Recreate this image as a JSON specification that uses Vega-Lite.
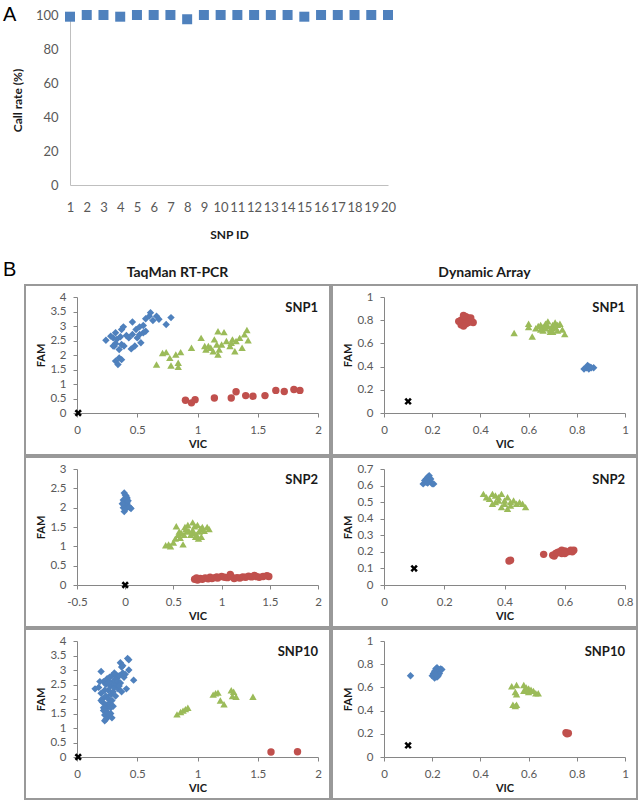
{
  "$schema": "https://vega.github.io/schema/vega-lite/v6.json",
  "padding": {"left": 3, "top": 5, "right": 0, "bottom": 0},
  "spacing": 20,
  "datasets": {
    "callrate": [
      {"snp": 1, "rate": 99}, {"snp": 2, "rate": 100}, {"snp": 3, "rate": 100}, {"snp": 4, "rate": 99},
      {"snp": 5, "rate": 100}, {"snp": 6, "rate": 100}, {"snp": 7, "rate": 100}, {"snp": 8, "rate": 97.5},
      {"snp": 9, "rate": 100}, {"snp": 10, "rate": 100}, {"snp": 11, "rate": 100}, {"snp": 12, "rate": 100},
      {"snp": 13, "rate": 100}, {"snp": 14, "rate": 100}, {"snp": 15, "rate": 99}, {"snp": 16, "rate": 100},
      {"snp": 17, "rate": 100}, {"snp": 18, "rate": 100}, {"snp": 19, "rate": 100}, {"snp": 20, "rate": 100}
    ],
    "t1": [
      {"v": 0.24, "f": 2.51, "g": "A"}, {"v": 0.30, "f": 2.59, "g": "A"}, {"v": 0.32, "f": 2.77, "g": "A"}, {"v": 0.37, "f": 2.88, "g": "A"},
      {"v": 0.385, "f": 2.97, "g": "A"}, {"v": 0.31, "f": 2.31, "g": "A"}, {"v": 0.35, "f": 2.19, "g": "A"}, {"v": 0.32, "f": 2.40, "g": "A"},
      {"v": 0.30, "f": 2.31, "g": "A"}, {"v": 0.37, "f": 2.36, "g": "A"}, {"v": 0.39, "f": 2.31, "g": "A"}, {"v": 0.35, "f": 1.90, "g": "A"},
      {"v": 0.32, "f": 1.79, "g": "A"}, {"v": 0.34, "f": 1.67, "g": "A"}, {"v": 0.37, "f": 1.84, "g": "A"}, {"v": 0.45, "f": 2.21, "g": "A"},
      {"v": 0.48, "f": 2.31, "g": "A"}, {"v": 0.53, "f": 2.42, "g": "A"}, {"v": 0.46, "f": 2.71, "g": "A"}, {"v": 0.46, "f": 3.14, "g": "A"},
      {"v": 0.49, "f": 2.88, "g": "A"}, {"v": 0.52, "f": 2.97, "g": "A"}, {"v": 0.55, "f": 3.02, "g": "A"}, {"v": 0.52, "f": 2.71, "g": "A"},
      {"v": 0.55, "f": 2.77, "g": "A"}, {"v": 0.57, "f": 3.25, "g": "A"}, {"v": 0.60, "f": 3.34, "g": "A"}, {"v": 0.61, "f": 3.46, "g": "A"},
      {"v": 0.63, "f": 3.19, "g": "A"}, {"v": 0.66, "f": 3.34, "g": "A"}, {"v": 0.68, "f": 3.23, "g": "A"}, {"v": 0.74, "f": 3.05, "g": "A"},
      {"v": 0.78, "f": 3.29, "g": "A"}, {"v": 0.41, "f": 2.67, "g": "A"}, {"v": 0.43, "f": 2.59, "g": "A"}, {"v": 0.28, "f": 2.65, "g": "A"},
      {"v": 0.33, "f": 2.54, "g": "A"}, {"v": 0.36, "f": 2.63, "g": "A"}, {"v": 0.50, "f": 2.59, "g": "A"}, {"v": 0.57, "f": 2.82, "g": "A"},
      {"v": 0.66, "f": 1.67, "g": "H"}, {"v": 0.71, "f": 2.07, "g": "H"}, {"v": 0.74, "f": 2.10, "g": "H"}, {"v": 0.77, "f": 1.90, "g": "H"},
      {"v": 0.78, "f": 1.64, "g": "H"}, {"v": 0.82, "f": 2.02, "g": "H"}, {"v": 0.84, "f": 1.73, "g": "H"}, {"v": 0.84, "f": 1.59, "g": "H"},
      {"v": 0.86, "f": 2.10, "g": "H"}, {"v": 0.95, "f": 2.25, "g": "H"}, {"v": 1.03, "f": 2.59, "g": "H"}, {"v": 1.06, "f": 2.31, "g": "H"},
      {"v": 1.07, "f": 2.19, "g": "H"}, {"v": 1.11, "f": 2.25, "g": "H"}, {"v": 1.13, "f": 2.13, "g": "H"}, {"v": 1.14, "f": 2.54, "g": "H"},
      {"v": 1.16, "f": 2.36, "g": "H"}, {"v": 1.17, "f": 2.82, "g": "H"}, {"v": 1.18, "f": 2.19, "g": "H"}, {"v": 1.17, "f": 2.02, "g": "H"},
      {"v": 1.22, "f": 2.79, "g": "H"}, {"v": 1.20, "f": 2.36, "g": "H"}, {"v": 1.24, "f": 2.48, "g": "H"}, {"v": 1.28, "f": 2.42, "g": "H"},
      {"v": 1.29, "f": 2.54, "g": "H"}, {"v": 1.31, "f": 2.13, "g": "H"}, {"v": 1.32, "f": 2.48, "g": "H"}, {"v": 1.35, "f": 2.59, "g": "H"},
      {"v": 1.37, "f": 2.25, "g": "H"}, {"v": 1.39, "f": 2.71, "g": "H"}, {"v": 1.41, "f": 2.86, "g": "H"}, {"v": 1.42, "f": 2.51, "g": "H"},
      {"v": 1.27, "f": 2.31, "g": "H"}, {"v": 1.09, "f": 2.31, "g": "H"},
      {"v": 0.90, "f": 0.44, "g": "B"}, {"v": 0.95, "f": 0.35, "g": "B"}, {"v": 0.98, "f": 0.46, "g": "B"}, {"v": 1.14, "f": 0.52, "g": "B"},
      {"v": 1.28, "f": 0.52, "g": "B"}, {"v": 1.32, "f": 0.73, "g": "B"}, {"v": 1.40, "f": 0.60, "g": "B"}, {"v": 1.46, "f": 0.58, "g": "B"},
      {"v": 1.56, "f": 0.60, "g": "B"}, {"v": 1.65, "f": 0.78, "g": "B"}, {"v": 1.72, "f": 0.74, "g": "B"}, {"v": 1.80, "f": 0.81, "g": "B"},
      {"v": 1.85, "f": 0.78, "g": "B"},
      {"v": 0.01, "f": 0, "g": "N"}
    ],
    "d1": [
      {"v": 0.32, "f": 0.80, "g": "B"}, {"v": 0.33, "f": 0.82, "g": "B"}, {"v": 0.34, "f": 0.83, "g": "B"}, {"v": 0.35, "f": 0.81, "g": "B"},
      {"v": 0.36, "f": 0.80, "g": "B"}, {"v": 0.37, "f": 0.78, "g": "B"}, {"v": 0.33, "f": 0.78, "g": "B"}, {"v": 0.32, "f": 0.76, "g": "B"},
      {"v": 0.34, "f": 0.79, "g": "B"}, {"v": 0.35, "f": 0.82, "g": "B"}, {"v": 0.33, "f": 0.80, "g": "B"}, {"v": 0.34, "f": 0.81, "g": "B"},
      {"v": 0.36, "f": 0.82, "g": "B"}, {"v": 0.32, "f": 0.78, "g": "B"}, {"v": 0.35, "f": 0.78, "g": "B"}, {"v": 0.33, "f": 0.84, "g": "B"},
      {"v": 0.34, "f": 0.77, "g": "B"}, {"v": 0.31, "f": 0.79, "g": "B"}, {"v": 0.33, "f": 0.75, "g": "B"},
      {"v": 0.54, "f": 0.69, "g": "H"}, {"v": 0.60, "f": 0.77, "g": "H"}, {"v": 0.60, "f": 0.74, "g": "H"}, {"v": 0.615, "f": 0.66, "g": "H"},
      {"v": 0.63, "f": 0.73, "g": "H"}, {"v": 0.64, "f": 0.75, "g": "H"}, {"v": 0.65, "f": 0.76, "g": "H"}, {"v": 0.66, "f": 0.74, "g": "H"},
      {"v": 0.66, "f": 0.71, "g": "H"}, {"v": 0.67, "f": 0.77, "g": "H"}, {"v": 0.68, "f": 0.79, "g": "H"}, {"v": 0.68, "f": 0.75, "g": "H"},
      {"v": 0.69, "f": 0.72, "g": "H"}, {"v": 0.69, "f": 0.70, "g": "H"}, {"v": 0.70, "f": 0.76, "g": "H"}, {"v": 0.70, "f": 0.73, "g": "H"},
      {"v": 0.71, "f": 0.78, "g": "H"}, {"v": 0.71, "f": 0.74, "g": "H"}, {"v": 0.72, "f": 0.71, "g": "H"}, {"v": 0.72, "f": 0.76, "g": "H"},
      {"v": 0.73, "f": 0.77, "g": "H"}, {"v": 0.74, "f": 0.72, "g": "H"}, {"v": 0.75, "f": 0.68, "g": "H"}, {"v": 0.67, "f": 0.73, "g": "H"},
      {"v": 0.65, "f": 0.72, "g": "H"}, {"v": 0.70, "f": 0.70, "g": "H"},
      {"v": 0.83, "f": 0.38, "g": "A"}, {"v": 0.84, "f": 0.39, "g": "A"}, {"v": 0.85, "f": 0.40, "g": "A"}, {"v": 0.86, "f": 0.39, "g": "A"},
      {"v": 0.87, "f": 0.39, "g": "A"}, {"v": 0.85, "f": 0.38, "g": "A"}, {"v": 0.845, "f": 0.41, "g": "A"}, {"v": 0.855, "f": 0.395, "g": "A"},
      {"v": 0.1, "f": 0.1, "g": "N"}
    ],
    "t2": [
      {"v": -0.01, "f": 2.38, "g": "A"}, {"v": 0.0, "f": 2.33, "g": "A"}, {"v": 0.01, "f": 2.30, "g": "A"}, {"v": 0.02, "f": 2.25, "g": "A"},
      {"v": -0.02, "f": 2.20, "g": "A"}, {"v": -0.01, "f": 2.15, "g": "A"}, {"v": 0.0, "f": 2.10, "g": "A"}, {"v": 0.01, "f": 2.05, "g": "A"},
      {"v": -0.02, "f": 2.00, "g": "A"}, {"v": 0.0, "f": 1.95, "g": "A"}, {"v": -0.01, "f": 1.90, "g": "A"}, {"v": 0.02, "f": 2.12, "g": "A"},
      {"v": 0.05, "f": 2.00, "g": "A"}, {"v": 0.06, "f": 1.98, "g": "A"}, {"v": 0.03, "f": 2.18, "g": "A"}, {"v": 0.04, "f": 2.02, "g": "A"},
      {"v": -0.03, "f": 2.10, "g": "A"},
      {"v": 0.42, "f": 1.03, "g": "H"}, {"v": 0.45, "f": 1.05, "g": "H"}, {"v": 0.47, "f": 1.00, "g": "H"}, {"v": 0.50, "f": 1.10, "g": "H"},
      {"v": 0.52, "f": 1.20, "g": "H"}, {"v": 0.53, "f": 1.52, "g": "H"}, {"v": 0.55, "f": 1.30, "g": "H"}, {"v": 0.56, "f": 1.38, "g": "H"},
      {"v": 0.58, "f": 1.35, "g": "H"}, {"v": 0.60, "f": 1.05, "g": "H"}, {"v": 0.61, "f": 1.30, "g": "H"}, {"v": 0.63, "f": 1.45, "g": "H"},
      {"v": 0.64, "f": 1.38, "g": "H"}, {"v": 0.65, "f": 1.55, "g": "H"}, {"v": 0.66, "f": 1.40, "g": "H"}, {"v": 0.68, "f": 1.30, "g": "H"},
      {"v": 0.70, "f": 1.62, "g": "H"}, {"v": 0.70, "f": 1.42, "g": "H"}, {"v": 0.71, "f": 1.35, "g": "H"}, {"v": 0.72, "f": 1.52, "g": "H"},
      {"v": 0.73, "f": 1.25, "g": "H"}, {"v": 0.74, "f": 1.30, "g": "H"}, {"v": 0.75, "f": 1.55, "g": "H"}, {"v": 0.76, "f": 1.20, "g": "H"},
      {"v": 0.77, "f": 1.38, "g": "H"}, {"v": 0.78, "f": 1.45, "g": "H"}, {"v": 0.79, "f": 1.25, "g": "H"}, {"v": 0.80, "f": 1.50, "g": "H"},
      {"v": 0.82, "f": 1.40, "g": "H"}, {"v": 0.85, "f": 1.50, "g": "H"}, {"v": 0.87, "f": 1.45, "g": "H"}, {"v": 0.57, "f": 1.22, "g": "H"},
      {"v": 0.62, "f": 1.50, "g": "H"},
      {"v": 0.72, "f": 0.15, "g": "B"}, {"v": 0.75, "f": 0.13, "g": "B"}, {"v": 0.78, "f": 0.17, "g": "B"}, {"v": 0.80, "f": 0.15, "g": "B"},
      {"v": 0.83, "f": 0.18, "g": "B"}, {"v": 0.86, "f": 0.16, "g": "B"}, {"v": 0.88, "f": 0.20, "g": "B"}, {"v": 0.90, "f": 0.17, "g": "B"},
      {"v": 0.93, "f": 0.19, "g": "B"}, {"v": 0.96, "f": 0.18, "g": "B"}, {"v": 1.00, "f": 0.22, "g": "B"}, {"v": 1.03, "f": 0.20, "g": "B"},
      {"v": 1.06, "f": 0.19, "g": "B"}, {"v": 1.09, "f": 0.27, "g": "B"}, {"v": 1.10, "f": 0.22, "g": "B"}, {"v": 1.13, "f": 0.17, "g": "B"},
      {"v": 1.16, "f": 0.19, "g": "B"}, {"v": 1.19, "f": 0.18, "g": "B"}, {"v": 1.22, "f": 0.21, "g": "B"}, {"v": 1.25, "f": 0.20, "g": "B"},
      {"v": 1.28, "f": 0.23, "g": "B"}, {"v": 1.31, "f": 0.21, "g": "B"}, {"v": 1.34, "f": 0.25, "g": "B"}, {"v": 1.36, "f": 0.22, "g": "B"},
      {"v": 1.39, "f": 0.20, "g": "B"}, {"v": 1.43, "f": 0.22, "g": "B"}, {"v": 1.47, "f": 0.24, "g": "B"}, {"v": 1.49, "f": 0.22, "g": "B"},
      {"v": 0.74, "f": 0.18, "g": "B"}, {"v": 0.95, "f": 0.21, "g": "B"},
      {"v": 0.0, "f": 0, "g": "N"}
    ],
    "d2": [
      {"v": 0.13, "f": 0.61, "g": "A"}, {"v": 0.135, "f": 0.63, "g": "A"}, {"v": 0.14, "f": 0.64, "g": "A"}, {"v": 0.145, "f": 0.65, "g": "A"},
      {"v": 0.15, "f": 0.66, "g": "A"}, {"v": 0.15, "f": 0.63, "g": "A"}, {"v": 0.14, "f": 0.62, "g": "A"}, {"v": 0.16, "f": 0.61, "g": "A"},
      {"v": 0.165, "f": 0.61, "g": "A"}, {"v": 0.155, "f": 0.64, "g": "A"}, {"v": 0.145, "f": 0.615, "g": "A"},
      {"v": 0.33, "f": 0.55, "g": "H"}, {"v": 0.34, "f": 0.53, "g": "H"}, {"v": 0.35, "f": 0.52, "g": "H"}, {"v": 0.36, "f": 0.55, "g": "H"},
      {"v": 0.37, "f": 0.50, "g": "H"}, {"v": 0.37, "f": 0.54, "g": "H"}, {"v": 0.38, "f": 0.53, "g": "H"}, {"v": 0.39, "f": 0.55, "g": "H"},
      {"v": 0.39, "f": 0.47, "g": "H"}, {"v": 0.40, "f": 0.51, "g": "H"}, {"v": 0.40, "f": 0.49, "g": "H"}, {"v": 0.41, "f": 0.53, "g": "H"},
      {"v": 0.42, "f": 0.50, "g": "H"}, {"v": 0.42, "f": 0.48, "g": "H"}, {"v": 0.43, "f": 0.51, "g": "H"}, {"v": 0.44, "f": 0.49, "g": "H"},
      {"v": 0.45, "f": 0.50, "g": "H"}, {"v": 0.46, "f": 0.49, "g": "H"}, {"v": 0.47, "f": 0.47, "g": "H"}, {"v": 0.36, "f": 0.49, "g": "H"},
      {"v": 0.38, "f": 0.51, "g": "H"}, {"v": 0.41, "f": 0.46, "g": "H"},
      {"v": 0.42, "f": 0.15, "g": "B"}, {"v": 0.415, "f": 0.145, "g": "B"}, {"v": 0.53, "f": 0.185, "g": "B"}, {"v": 0.56, "f": 0.18, "g": "B"},
      {"v": 0.57, "f": 0.19, "g": "B"}, {"v": 0.58, "f": 0.20, "g": "B"}, {"v": 0.59, "f": 0.19, "g": "B"}, {"v": 0.60, "f": 0.205, "g": "B"},
      {"v": 0.61, "f": 0.20, "g": "B"}, {"v": 0.62, "f": 0.21, "g": "B"}, {"v": 0.63, "f": 0.21, "g": "B"}, {"v": 0.565, "f": 0.175, "g": "B"},
      {"v": 0.59, "f": 0.21, "g": "B"}, {"v": 0.60, "f": 0.19, "g": "B"}, {"v": 0.625, "f": 0.20, "g": "B"}, {"v": 0.575, "f": 0.195, "g": "B"},
      {"v": 0.1, "f": 0.1, "g": "N"}
    ],
    "t3": [
      {"v": 0.15, "f": 2.35, "g": "A"}, {"v": 0.18, "f": 2.40, "g": "A"}, {"v": 0.20, "f": 2.95, "g": "A"}, {"v": 0.20, "f": 2.20, "g": "A"},
      {"v": 0.21, "f": 2.00, "g": "A"}, {"v": 0.21, "f": 1.90, "g": "A"}, {"v": 0.22, "f": 2.60, "g": "A"}, {"v": 0.22, "f": 1.60, "g": "A"},
      {"v": 0.23, "f": 1.45, "g": "A"}, {"v": 0.23, "f": 1.25, "g": "A"}, {"v": 0.24, "f": 1.80, "g": "A"}, {"v": 0.24, "f": 2.10, "g": "A"},
      {"v": 0.24, "f": 2.50, "g": "A"}, {"v": 0.25, "f": 1.55, "g": "A"}, {"v": 0.25, "f": 1.70, "g": "A"}, {"v": 0.25, "f": 2.70, "g": "A"},
      {"v": 0.26, "f": 1.40, "g": "A"}, {"v": 0.26, "f": 2.30, "g": "A"}, {"v": 0.26, "f": 2.00, "g": "A"}, {"v": 0.27, "f": 1.85, "g": "A"},
      {"v": 0.27, "f": 2.60, "g": "A"}, {"v": 0.27, "f": 2.75, "g": "A"}, {"v": 0.28, "f": 1.50, "g": "A"}, {"v": 0.28, "f": 2.15, "g": "A"},
      {"v": 0.28, "f": 2.45, "g": "A"}, {"v": 0.29, "f": 1.35, "g": "A"}, {"v": 0.29, "f": 1.95, "g": "A"}, {"v": 0.29, "f": 2.80, "g": "A"},
      {"v": 0.30, "f": 2.25, "g": "A"}, {"v": 0.30, "f": 2.55, "g": "A"}, {"v": 0.30, "f": 1.75, "g": "A"}, {"v": 0.31, "f": 2.65, "g": "A"},
      {"v": 0.31, "f": 2.40, "g": "A"}, {"v": 0.32, "f": 2.85, "g": "A"}, {"v": 0.32, "f": 2.10, "g": "A"}, {"v": 0.33, "f": 2.50, "g": "A"},
      {"v": 0.33, "f": 2.70, "g": "A"}, {"v": 0.34, "f": 2.35, "g": "A"}, {"v": 0.34, "f": 2.60, "g": "A"}, {"v": 0.35, "f": 2.80, "g": "A"},
      {"v": 0.36, "f": 3.25, "g": "A"}, {"v": 0.36, "f": 2.55, "g": "A"}, {"v": 0.37, "f": 2.25, "g": "A"}, {"v": 0.37, "f": 3.10, "g": "A"},
      {"v": 0.38, "f": 2.90, "g": "A"}, {"v": 0.38, "f": 3.15, "g": "A"}, {"v": 0.39, "f": 2.75, "g": "A"}, {"v": 0.40, "f": 2.85, "g": "A"},
      {"v": 0.41, "f": 2.35, "g": "A"}, {"v": 0.42, "f": 3.40, "g": "A"}, {"v": 0.43, "f": 3.00, "g": "A"}, {"v": 0.43, "f": 3.35, "g": "A"},
      {"v": 0.47, "f": 2.65, "g": "A"}, {"v": 0.19, "f": 2.60, "g": "A"}, {"v": 0.23, "f": 2.30, "g": "A"}, {"v": 0.26, "f": 2.55, "g": "A"},
      {"v": 0.22, "f": 1.70, "g": "A"}, {"v": 0.20, "f": 1.95, "g": "A"}, {"v": 0.28, "f": 1.70, "g": "A"}, {"v": 0.31, "f": 2.90, "g": "A"},
      {"v": 0.35, "f": 2.45, "g": "A"}, {"v": 0.24, "f": 1.30, "g": "A"},
      {"v": 0.83, "f": 1.47, "g": "H"}, {"v": 0.86, "f": 1.55, "g": "H"}, {"v": 0.88, "f": 1.60, "g": "H"}, {"v": 0.90, "f": 1.65, "g": "H"},
      {"v": 0.92, "f": 1.70, "g": "H"}, {"v": 1.13, "f": 2.15, "g": "H"}, {"v": 1.15, "f": 2.20, "g": "H"}, {"v": 1.17, "f": 2.22, "g": "H"},
      {"v": 1.19, "f": 1.95, "g": "H"}, {"v": 1.22, "f": 1.82, "g": "H"}, {"v": 1.28, "f": 2.30, "g": "H"}, {"v": 1.29, "f": 2.10, "g": "H"},
      {"v": 1.30, "f": 2.25, "g": "H"}, {"v": 1.32, "f": 2.08, "g": "H"}, {"v": 1.46, "f": 2.08, "g": "H"},
      {"v": 1.61, "f": 0.17, "g": "B"}, {"v": 1.83, "f": 0.18, "g": "B"},
      {"v": 0.01, "f": 0, "g": "N"}
    ],
    "d3": [
      {"v": 0.11, "f": 0.70, "g": "A"}, {"v": 0.20, "f": 0.70, "g": "A"}, {"v": 0.205, "f": 0.72, "g": "A"}, {"v": 0.21, "f": 0.74, "g": "A"},
      {"v": 0.21, "f": 0.69, "g": "A"}, {"v": 0.215, "f": 0.76, "g": "A"}, {"v": 0.22, "f": 0.71, "g": "A"}, {"v": 0.22, "f": 0.77, "g": "A"},
      {"v": 0.225, "f": 0.73, "g": "A"}, {"v": 0.23, "f": 0.75, "g": "A"}, {"v": 0.235, "f": 0.76, "g": "A"}, {"v": 0.21, "f": 0.68, "g": "A"},
      {"v": 0.22, "f": 0.69, "g": "A"}, {"v": 0.225, "f": 0.70, "g": "A"}, {"v": 0.23, "f": 0.72, "g": "A"}, {"v": 0.215, "f": 0.71, "g": "A"},
      {"v": 0.24, "f": 0.755, "g": "A"},
      {"v": 0.53, "f": 0.61, "g": "H"}, {"v": 0.55, "f": 0.62, "g": "H"}, {"v": 0.545, "f": 0.56, "g": "H"}, {"v": 0.55, "f": 0.54, "g": "H"},
      {"v": 0.535, "f": 0.45, "g": "H"}, {"v": 0.545, "f": 0.44, "g": "H"}, {"v": 0.55, "f": 0.45, "g": "H"}, {"v": 0.58, "f": 0.62, "g": "H"},
      {"v": 0.58, "f": 0.57, "g": "H"}, {"v": 0.59, "f": 0.60, "g": "H"}, {"v": 0.60, "f": 0.59, "g": "H"}, {"v": 0.61, "f": 0.58, "g": "H"},
      {"v": 0.62, "f": 0.57, "g": "H"}, {"v": 0.63, "f": 0.55, "g": "H"}, {"v": 0.64, "f": 0.55, "g": "H"}, {"v": 0.60, "f": 0.56, "g": "H"},
      {"v": 0.59, "f": 0.58, "g": "H"},
      {"v": 0.755, "f": 0.21, "g": "B"}, {"v": 0.76, "f": 0.20, "g": "B"}, {"v": 0.765, "f": 0.205, "g": "B"},
      {"v": 0.1, "f": 0.1, "g": "N"}
    ]
  },
  "vconcat": [
    {
      "width": 365,
      "height": 170,
      "view": {"stroke": null},
      "title": {"text": "A", "anchor": "start", "frame": "group", "dx": -22, "offset": -16, "fontSize": 20, "fontWeight": "normal", "font": "Liberation Sans", "color": "#000000"},
      "data": {"name": "callrate"},
      "mark": {"type": "point", "shape": "square", "filled": true, "opacity": 1, "size": 100, "color": "#4f81bd"},
      "encoding": {
        "x": {"field": "snp", "type": "quantitative", "scale": {"domain": [1, 20], "range": [45, 363], "nice": false, "zero": false},
          "axis": {"title": "SNP ID", "values": [1,2,3,4,5,6,7,8,9,10,11,12,13,14,15,16,17,18,19,20], "ticks": false, "tickSize": 0, "labelPadding": 16, "labelFontSize": 13, "titleFontSize": 12, "titlePadding": 15, "domainColor": "#bfbfbf"}},
        "y": {"field": "rate", "type": "quantitative", "scale": {"domain": [0, 100], "nice": false},
          "axis": {"title": "Call rate (%)", "values": [0,20,40,60,80,100], "offset": -45, "ticks": false, "tickSize": 0, "labelPadding": 12, "labelFontSize": 13, "titleFontSize": 12, "titlePadding": 11, "domainColor": "#bfbfbf"}}
      }
    },
    {
      "title": {"text": "B", "anchor": "start", "frame": "group", "dx": -22, "offset": -14, "fontSize": 20, "fontWeight": "normal", "font": "Liberation Sans", "color": "#000000"},
      "spacing": 0,
      "hconcat": [
        {
          "title": {"text": "TaqMan RT-PCR", "fontSize": 14, "fontWeight": "bold", "anchor": "middle", "offset": 4},
          "spacing": 0,
          "vconcat": [
            {
              "width": 305, "height": 170,
              "view": {"stroke": "#999999", "strokeWidth": 2},
              "title": {"text": "SNP1", "anchor": "end", "frame": "group", "dx": -12, "offset": -36, "baseline": "middle", "fontSize": 13, "fontWeight": "bold"},
              "data": {"name": "t1"},
              "mark": {"type": "point", "filled": true, "opacity": 1, "size": 55},
              "encoding": {
                "x": {"field": "v", "type": "quantitative", "scale": {"domain": [0, 2], "range": [52, 293], "nice": false, "zero": false}, "axis": {"title": "VIC", "values": [0, 0.5, 1, 1.5, 2], "offset": -42}},
                "y": {"field": "f", "type": "quantitative", "scale": {"domain": [0, 4], "range": [128, 12], "nice": false}, "axis": {"title": "FAM", "values": [0, 0.5, 1, 1.5, 2, 2.5, 3, 3.5, 4], "offset": -52}},
                "color": {"field": "g", "type": "nominal", "scale": {"domain": ["A", "H", "B", "N"], "range": ["#4f81bd", "#9bbb59", "#c0504d", "#000000"]}, "legend": null},
                "shape": {"field": "g", "type": "nominal", "scale": {"domain": ["A", "H", "B", "N"], "range": ["diamond", "triangle-up", "circle", "M-1,-0.5L-0.5,-1L0,-0.45L0.5,-1L1,-0.5L0.45,0L1,0.5L0.5,1L0,0.45L-0.5,1L-1,0.5L-0.45,0Z"]}, "legend": null}
              }
            },
            {
              "width": 305, "height": 170,
              "view": {"stroke": "#999999", "strokeWidth": 2},
              "title": {"text": "SNP2", "anchor": "end", "frame": "group", "dx": -12, "offset": -36, "baseline": "middle", "fontSize": 13, "fontWeight": "bold"},
              "data": {"name": "t2"},
              "mark": {"type": "point", "filled": true, "opacity": 1, "size": 55},
              "encoding": {
                "x": {"field": "v", "type": "quantitative", "scale": {"domain": [-0.5, 2], "range": [52, 293], "nice": false, "zero": false}, "axis": {"title": "VIC", "values": [-0.5, 0, 0.5, 1, 1.5, 2], "offset": -42}},
                "y": {"field": "f", "type": "quantitative", "scale": {"domain": [0, 3], "range": [128, 12], "nice": false}, "axis": {"title": "FAM", "values": [0, 0.5, 1, 1.5, 2, 2.5, 3], "offset": -52}},
                "color": {"field": "g", "type": "nominal", "scale": {"domain": ["A", "H", "B", "N"], "range": ["#4f81bd", "#9bbb59", "#c0504d", "#000000"]}, "legend": null},
                "shape": {"field": "g", "type": "nominal", "scale": {"domain": ["A", "H", "B", "N"], "range": ["diamond", "triangle-up", "circle", "M-1,-0.5L-0.5,-1L0,-0.45L0.5,-1L1,-0.5L0.45,0L1,0.5L0.5,1L0,0.45L-0.5,1L-1,0.5L-0.45,0Z"]}, "legend": null}
              }
            },
            {
              "width": 305, "height": 170,
              "view": {"stroke": "#999999", "strokeWidth": 2},
              "title": {"text": "SNP10", "anchor": "end", "frame": "group", "dx": -12, "offset": -36, "baseline": "middle", "fontSize": 13, "fontWeight": "bold"},
              "data": {"name": "t3"},
              "mark": {"type": "point", "filled": true, "opacity": 1, "size": 55},
              "encoding": {
                "x": {"field": "v", "type": "quantitative", "scale": {"domain": [0, 2], "range": [52, 293], "nice": false, "zero": false}, "axis": {"title": "VIC", "values": [0, 0.5, 1, 1.5, 2], "offset": -42}},
                "y": {"field": "f", "type": "quantitative", "scale": {"domain": [0, 4], "range": [128, 12], "nice": false}, "axis": {"title": "FAM", "values": [0, 0.5, 1, 1.5, 2, 2.5, 3, 3.5, 4], "offset": -52}},
                "color": {"field": "g", "type": "nominal", "scale": {"domain": ["A", "H", "B", "N"], "range": ["#4f81bd", "#9bbb59", "#c0504d", "#000000"]}, "legend": null},
                "shape": {"field": "g", "type": "nominal", "scale": {"domain": ["A", "H", "B", "N"], "range": ["diamond", "triangle-up", "circle", "M-1,-0.5L-0.5,-1L0,-0.45L0.5,-1L1,-0.5L0.45,0L1,0.5L0.5,1L0,0.45L-0.5,1L-1,0.5L-0.45,0Z"]}, "legend": null}
              }
            }
          ]
        },
        {
          "title": {"text": "Dynamic Array", "fontSize": 14, "fontWeight": "bold", "anchor": "middle", "offset": 4},
          "spacing": 0,
          "vconcat": [
            {
              "width": 305, "height": 170,
              "view": {"stroke": "#999999", "strokeWidth": 2},
              "title": {"text": "SNP1", "anchor": "end", "frame": "group", "dx": -12, "offset": -36, "baseline": "middle", "fontSize": 13, "fontWeight": "bold"},
              "data": {"name": "d1"},
              "mark": {"type": "point", "filled": true, "opacity": 1, "size": 55},
              "encoding": {
                "x": {"field": "v", "type": "quantitative", "scale": {"domain": [0, 1], "range": [52, 293], "nice": false, "zero": false}, "axis": {"title": "VIC", "values": [0, 0.2, 0.4, 0.6, 0.8, 1], "offset": -42}},
                "y": {"field": "f", "type": "quantitative", "scale": {"domain": [0, 1], "range": [128, 12], "nice": false}, "axis": {"title": "FAM", "values": [0, 0.2, 0.4, 0.6, 0.8, 1], "offset": -52}},
                "color": {"field": "g", "type": "nominal", "scale": {"domain": ["A", "H", "B", "N"], "range": ["#4f81bd", "#9bbb59", "#c0504d", "#000000"]}, "legend": null},
                "shape": {"field": "g", "type": "nominal", "scale": {"domain": ["A", "H", "B", "N"], "range": ["diamond", "triangle-up", "circle", "M-1,-0.5L-0.5,-1L0,-0.45L0.5,-1L1,-0.5L0.45,0L1,0.5L0.5,1L0,0.45L-0.5,1L-1,0.5L-0.45,0Z"]}, "legend": null}
              }
            },
            {
              "width": 305, "height": 170,
              "view": {"stroke": "#999999", "strokeWidth": 2},
              "title": {"text": "SNP2", "anchor": "end", "frame": "group", "dx": -12, "offset": -36, "baseline": "middle", "fontSize": 13, "fontWeight": "bold"},
              "data": {"name": "d2"},
              "mark": {"type": "point", "filled": true, "opacity": 1, "size": 55},
              "encoding": {
                "x": {"field": "v", "type": "quantitative", "scale": {"domain": [0, 0.8], "range": [52, 293], "nice": false, "zero": false}, "axis": {"title": "VIC", "values": [0, 0.2, 0.4, 0.6, 0.8], "offset": -42}},
                "y": {"field": "f", "type": "quantitative", "scale": {"domain": [0, 0.7], "range": [128, 12], "nice": false}, "axis": {"title": "FAM", "values": [0, 0.1, 0.2, 0.3, 0.4, 0.5, 0.6, 0.7], "offset": -52}},
                "color": {"field": "g", "type": "nominal", "scale": {"domain": ["A", "H", "B", "N"], "range": ["#4f81bd", "#9bbb59", "#c0504d", "#000000"]}, "legend": null},
                "shape": {"field": "g", "type": "nominal", "scale": {"domain": ["A", "H", "B", "N"], "range": ["diamond", "triangle-up", "circle", "M-1,-0.5L-0.5,-1L0,-0.45L0.5,-1L1,-0.5L0.45,0L1,0.5L0.5,1L0,0.45L-0.5,1L-1,0.5L-0.45,0Z"]}, "legend": null}
              }
            },
            {
              "width": 305, "height": 170,
              "view": {"stroke": "#999999", "strokeWidth": 2},
              "title": {"text": "SNP10", "anchor": "end", "frame": "group", "dx": -12, "offset": -36, "baseline": "middle", "fontSize": 13, "fontWeight": "bold"},
              "data": {"name": "d3"},
              "mark": {"type": "point", "filled": true, "opacity": 1, "size": 55},
              "encoding": {
                "x": {"field": "v", "type": "quantitative", "scale": {"domain": [0, 1], "range": [52, 293], "nice": false, "zero": false}, "axis": {"title": "VIC", "values": [0, 0.2, 0.4, 0.6, 0.8, 1], "offset": -42}},
                "y": {"field": "f", "type": "quantitative", "scale": {"domain": [0, 1], "range": [128, 12], "nice": false}, "axis": {"title": "FAM", "values": [0, 0.2, 0.4, 0.6, 0.8, 1], "offset": -52}},
                "color": {"field": "g", "type": "nominal", "scale": {"domain": ["A", "H", "B", "N"], "range": ["#4f81bd", "#9bbb59", "#c0504d", "#000000"]}, "legend": null},
                "shape": {"field": "g", "type": "nominal", "scale": {"domain": ["A", "H", "B", "N"], "range": ["diamond", "triangle-up", "circle", "M-1,-0.5L-0.5,-1L0,-0.45L0.5,-1L1,-0.5L0.45,0L1,0.5L0.5,1L0,0.45L-0.5,1L-1,0.5L-0.45,0Z"]}, "legend": null}
              }
            }
          ]
        }
      ]
    }
  ],
  "config": {
    "font": "Lato",
    "view": {"stroke": null},
    "title": {"font": "Lato", "color": "#1a1a1a"},
    "axis": {
      "grid": false,
      "labelFont": "Lato", "labelFontSize": 11.5, "labelColor": "#595959",
      "labelExpr": "'' + datum.value",
      "titleFont": "Lato", "titleFontSize": 11, "titleFontWeight": "bold", "titleColor": "#1a1a1a",
      "domainColor": "#868686", "tickColor": "#868686", "tickSize": 4,
      "labelPadding": 7, "titlePadding": 3,
      "labelFlush": false, "labelOverlap": false
    }
  }
}
